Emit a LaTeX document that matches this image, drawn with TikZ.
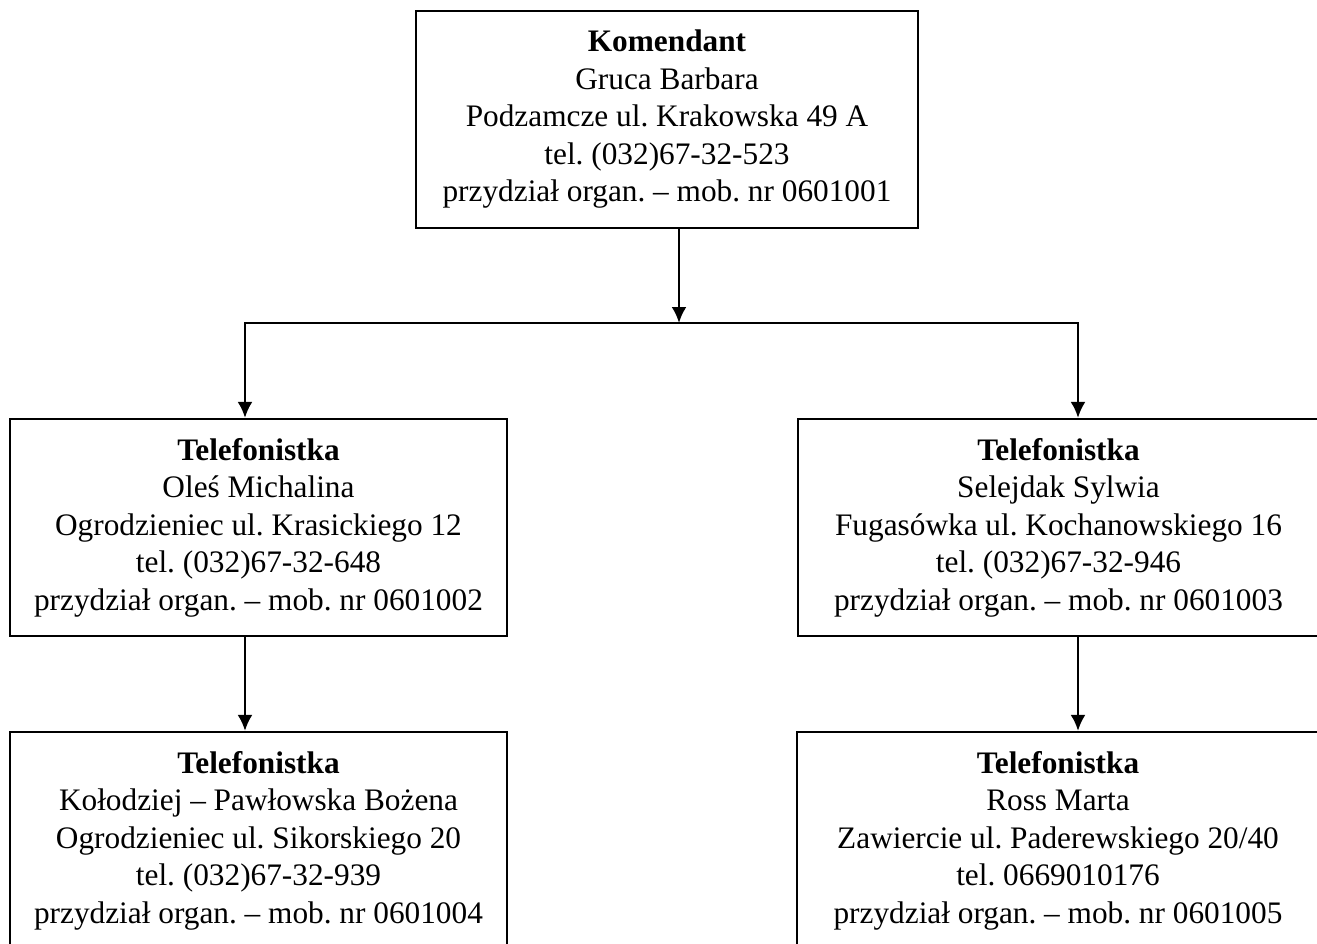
\documentclass[tikz,border=0pt]{standalone}
\usepackage{fontspec}
\setmainfont{Liberation Serif}
\usetikzlibrary{arrows.meta}
\frenchspacing

\begin{document}
\begin{tikzpicture}[x=1pt, y=-1pt]
        \tikzstyle{card} = [rectangle, draw, line width=2.2pt, inner sep=0pt, minimum height=217pt, align=center, font=\fontsize{31.3}{37.5}\selectfont]
        \tikzstyle{link} = [line width=2.6pt, line join=miter, >={Latex[length=16pt, width=15pt]}]

        \useasboundingbox (0,0) rectangle (1317,944);

        \node[card, minimum width=502pt] (kom) at (667, 119.5) {\textbf{Komendant}\\Gruca Barbara\\Podzamcze ul. Krakowska 49 A\\tel. (032)67-32-523\\przydział organ. – mob. nr 0601001};

        \foreach \n/\x/\y/\w/\osoba/\adres/\tel/\nr in {
            1/258.5/527.5/497/{Oleś Michalina}/{Ogrodzieniec ul. Krasickiego 12}/{(032)67-32-648}/0601002,
            2/1058.5/527.5/521/{Selejdak Sylwia}/{Fugasówka ul. Kochanowskiego 16}/{(032)67-32-946}/0601003,
            3/258.5/840.5/497/{Kołodziej – Pawłowska Bożena}/{Ogrodzieniec ul. Sikorskiego 20}/{(032)67-32-939}/0601004,
            4/1058/840.5/522/{Ross Marta}/{Zawiercie ul. Paderewskiego 20/40}/{0669010176}/0601005
        } {
            \node[card, minimum width=\w pt] (tel\n) at (\x, \y) {\textbf{Telefonistka}\\\osoba\\\adres\\tel. \tel\\przydział organ. – mob. nr \nr};
        }

        \coordinate (split) at (679, 323);
        \coordinate (jl) at (245, 323);
        \coordinate (jr) at (1078, 323);

        \draw[link, ->] (kom.south -| split) -- (split);
        \draw[link, <->] (jl |- tel1.north) -- (jl) -- (jr) -- (jr |- tel2.north);
        \draw[link, ->] (jl |- tel1.south) -- (jl |- tel3.north);
        \draw[link, ->] (jr |- tel2.south) -- (jr |- tel4.north);
    \end{tikzpicture}
\end{document}
